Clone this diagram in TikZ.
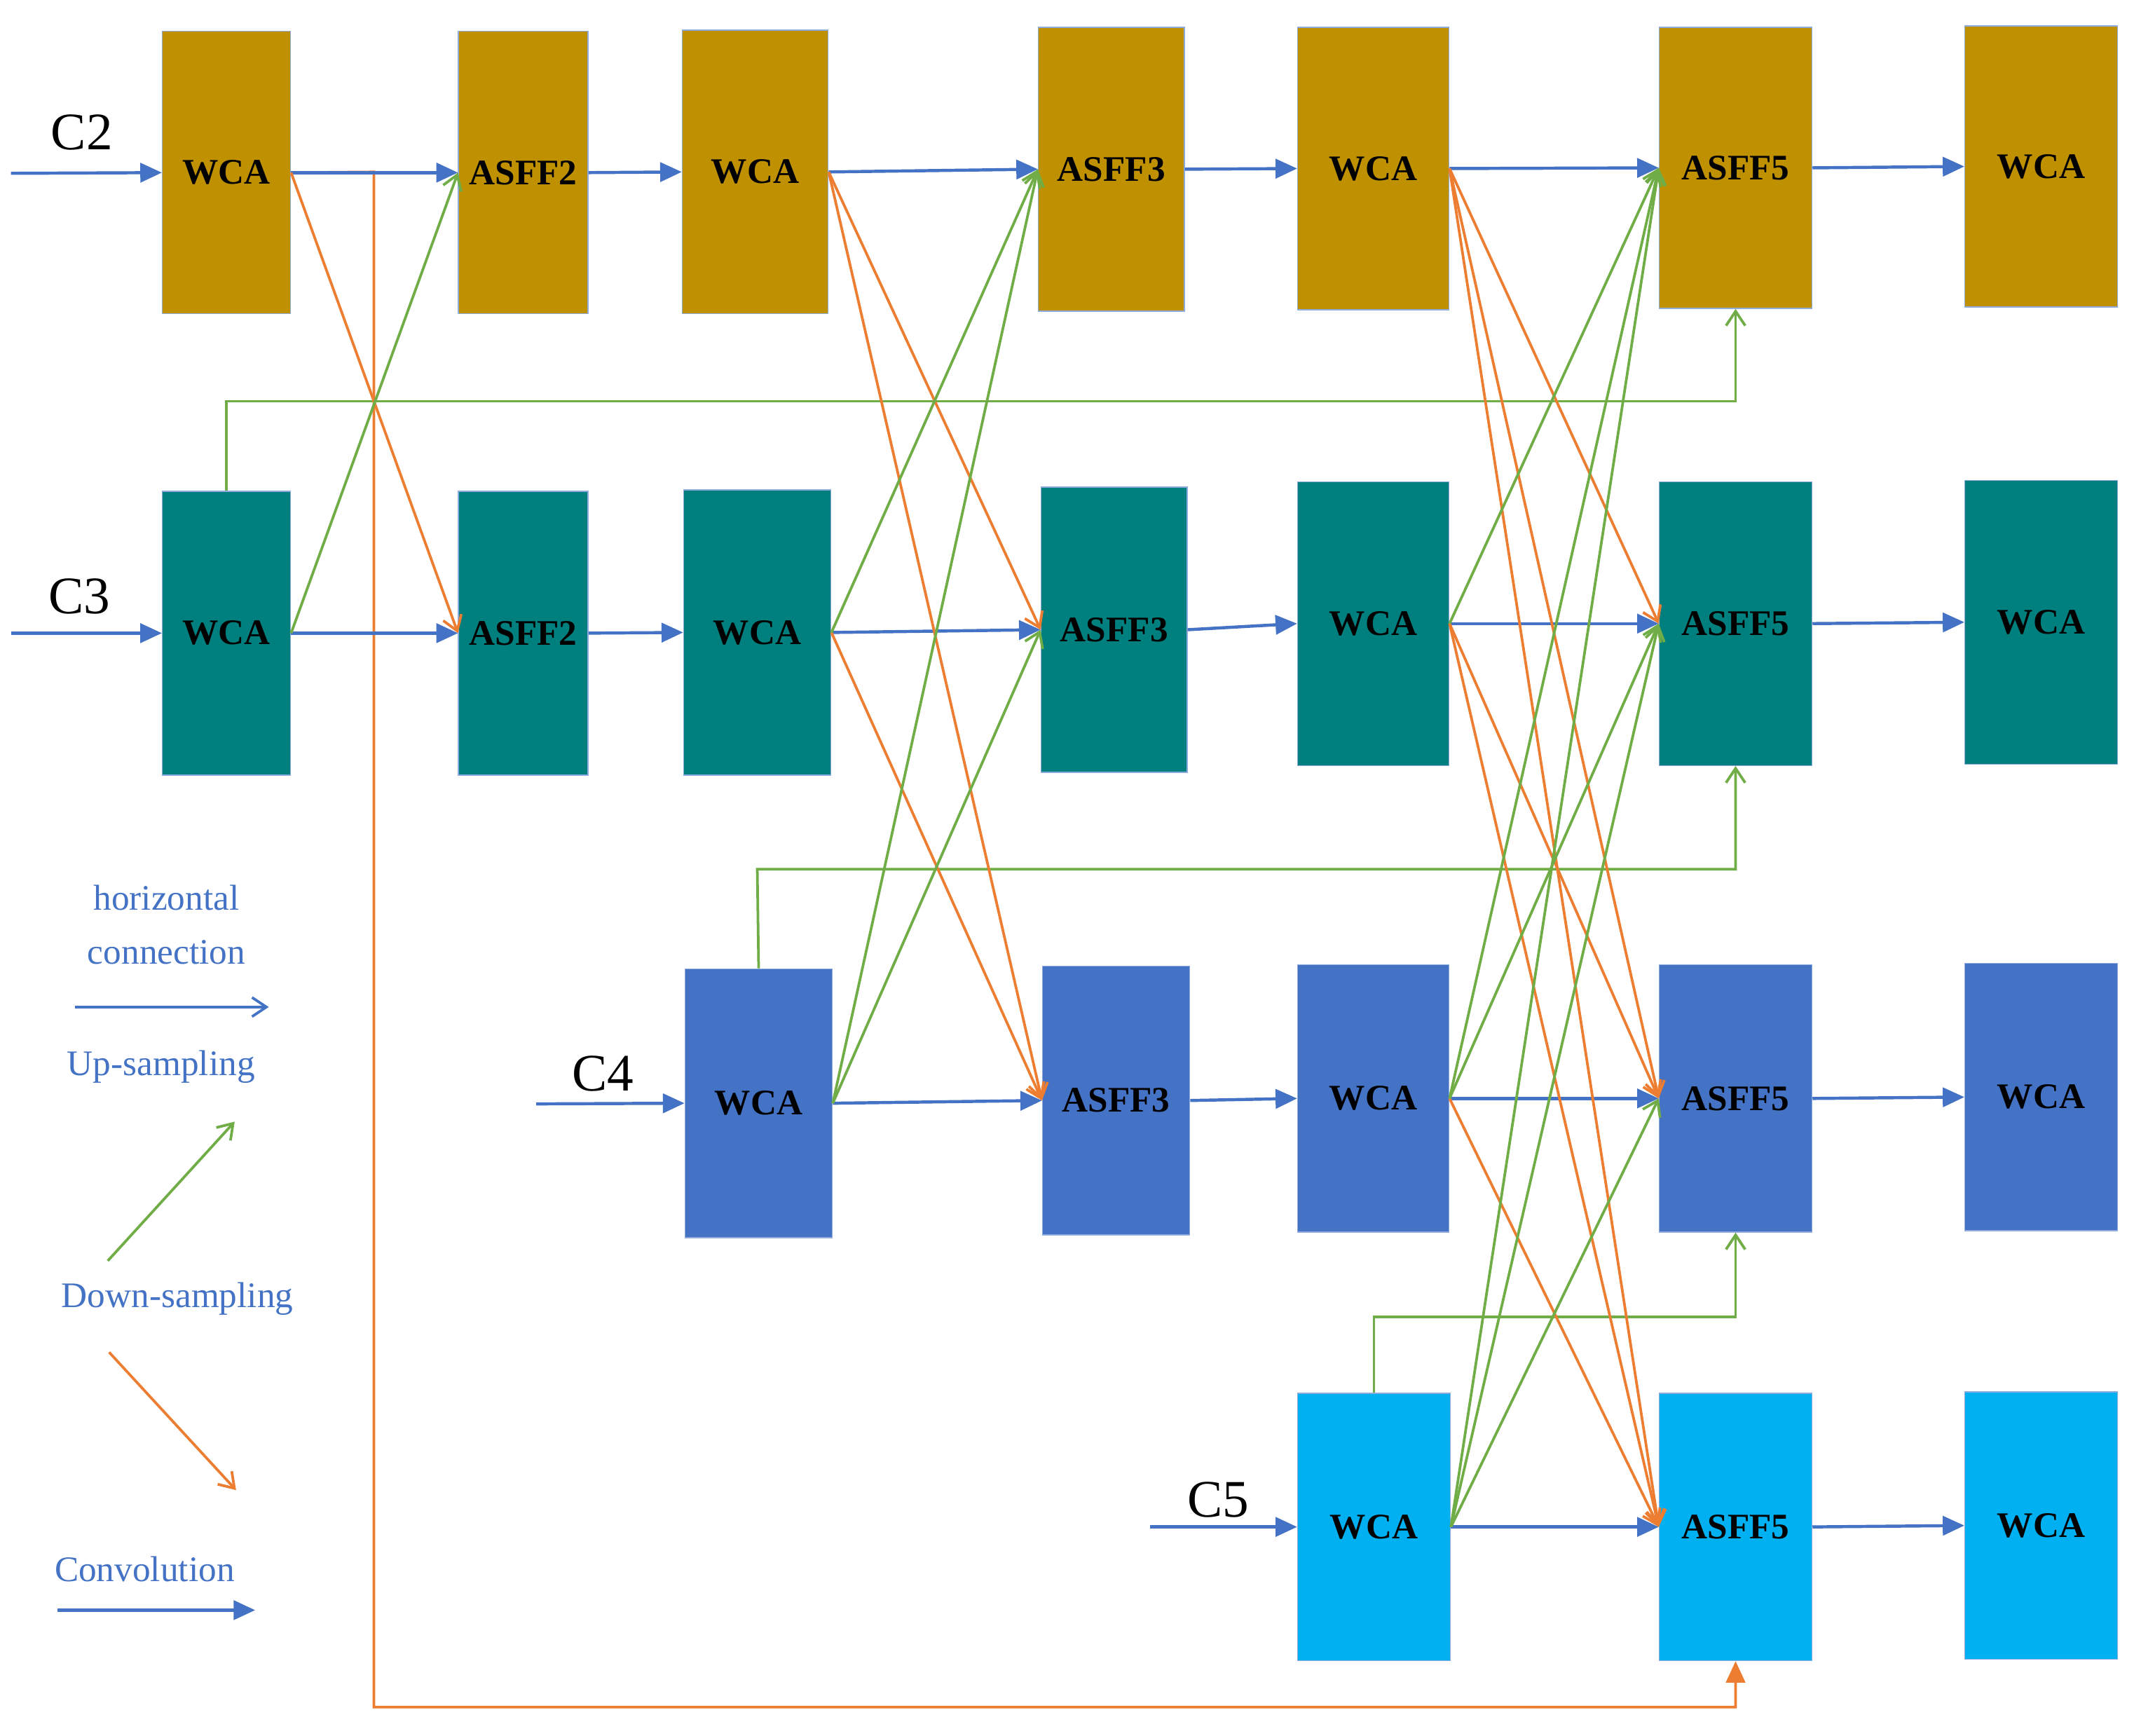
\documentclass[tikz,border=0pt]{standalone}
\usepackage{fontspec}
\setmainfont{Liberation Serif}
\usetikzlibrary{arrows.meta}
\definecolor{gold}{HTML}{BF9000}
\definecolor{teal2}{HTML}{007F7F}
\definecolor{blu}{HTML}{4472C4}
\definecolor{sky}{HTML}{00B0F0}
\definecolor{grn}{HTML}{70AD47}
\definecolor{org}{HTML}{ED7D31}
\newcommand\bx[7]{\node[box,fill=#6,minimum width={(#4-#2)*0.02cm},minimum height={(#5-#3)*0.02cm}] (#1) at ({(#2+#4)/2},{(#3+#5)/2}) {#7};}
\begin{document}
\begin{tikzpicture}[x=0.02cm,y=-0.02cm,
 box/.style={draw=blu!60,line width=0.4pt,inner sep=0pt,font=\fontsize{15}{15}\bfseries\selectfont},
 hz/.style={blu,line width=1.3pt,-{Triangle[length=9pt,width=8pt]}},
 up/.style={grn,line width=1.1pt,-{Straight Barb[length=6pt,width=8pt]}},
 dn/.style={org,line width=1.1pt,-{Straight Barb[length=6pt,width=8pt]}},
 lab/.style={font=\fontsize{22}{22}\selectfont},
 leg/.style={blu,font=\fontsize{15}{15}\selectfont}]
\useasboundingbox (0,0) rectangle (1564,1272);
% row 1
\bx{a1}{119}{23}{213}{230}{gold}{WCA}
\bx{b1}{336}{23}{431}{230}{gold}{ASFF2}
\bx{c1}{500}{22}{607}{230}{gold}{WCA}
\bx{d1}{761}{20}{868}{228}{gold}{ASFF3}
\bx{e1}{951}{20}{1062}{227}{gold}{WCA}
\bx{f1}{1216}{20}{1328}{226}{gold}{ASFF5}
\bx{g1}{1440}{19}{1552}{225}{gold}{WCA}
% row 2
\bx{a2}{119}{360}{213}{568}{teal2}{WCA}
\bx{b2}{336}{360}{431}{568}{teal2}{ASFF2}
\bx{c2}{501}{359}{609}{568}{teal2}{WCA}
\bx{d2}{763}{357}{870}{566}{teal2}{ASFF3}
\bx{e2}{951}{353}{1062}{561}{teal2}{WCA}
\bx{f2}{1216}{353}{1328}{561}{teal2}{ASFF5}
\bx{g2}{1440}{352}{1552}{560}{teal2}{WCA}
% row 3
\bx{c3}{502}{710}{610}{907}{blu}{WCA}
\bx{d3}{764}{708}{872}{905}{blu}{ASFF3}
\bx{e3}{951}{707}{1062}{903}{blu}{WCA}
\bx{f3}{1216}{707}{1328}{903}{blu}{ASFF5}
\bx{g3}{1440}{706}{1552}{902}{blu}{WCA}
% row 4
\bx{e4}{951}{1021}{1063}{1217}{sky}{WCA}
\bx{f4}{1216}{1021}{1328}{1217}{sky}{ASFF5}
\bx{g4}{1440}{1020}{1552}{1216}{sky}{WCA}
% inputs
\coordinate (i2) at (8,127); \coordinate (i3) at (8,464);
\coordinate (i4) at (393,809); \coordinate (i5) at (843,1119);
\draw[hz] (i2) -- (a1.west); \draw[hz] (i3) -- (a2.west);
\draw[hz] (i4) -- (c3.west); \draw[hz] (i5) -- (e4.west);
\node[lab] (l2) at (60,97) {C2}; \node[lab] (l3) at (58,437) {C3};
\node[lab] (l4) at (442,787) {C4}; \node[lab] (l5) at (893,1099) {C5};
% long routes
\draw[dn,-{Triangle[length=9pt,width=8pt]}] (a1.east) -- (274,126) -- (274,1251) -- (1272,1251) -- (f4.south);
\draw[up] (a2.north) -- (166,294) -- (1272,294) -- (f1.south);
\draw[up] (c3.north) -- (555,637) -- (1272,637) -- (f2.south);
\draw[up] (e4.north) -- (1007,965) -- (1272,965) -- (f3.south);
% horizontals
\foreach \s/\t in {a1/b1,b1/c1,c1/d1,d1/e1,e1/f1,f1/g1,a2/b2,b2/c2,c2/d2,d2/e2,e2/f2,f2/g2,c3/d3,d3/e3,e3/f3,f3/g3,e4/f4,f4/g4}
  \draw[hz] (\s.east) -- (\t.west);
% down-sampling
\foreach \s/\t in {a1/b2,c1/d2,c1/d3,c2/d3,e1/f2,e1/f3,e1/f4,e2/f3,e2/f4,e3/f4}
  \draw[dn] (\s.east) -- (\t.west);
% up-sampling
\foreach \s/\t in {a2/b1,c2/d1,c3/d1,c3/d2,e2/f1,e3/f1,e3/f2,e4/f1,e4/f2,e4/f3}
  \draw[up] (\s.east) -- (\t.west);
% legend
\node[leg] (h1) at (122,658) {horizontal};
\node[leg] (h2) at (122,698) {connection};
\coordinate (la) at (55,738); \coordinate (lb) at (197,738);
\draw[blu,line width=1.1pt,-{Straight Barb[length=6pt,width=8pt]}] (la) -- (lb);
\node[leg] (us) at (118,782) {Up-sampling};
\coordinate (ua) at (79,924); \coordinate (ub) at (172,822);
\draw[up] (ua) -- (ub);
\node[leg] (ds) at (130,952) {Down-sampling};
\coordinate (da) at (80,991); \coordinate (db) at (173,1092);
\draw[dn] (da) -- (db);
\node[leg] (cv) at (106,1150) {Convolution};
\coordinate (ca) at (42,1180); \coordinate (cb) at (187,1180);
\draw[hz] (ca) -- (cb);
\end{tikzpicture}
\end{document}
